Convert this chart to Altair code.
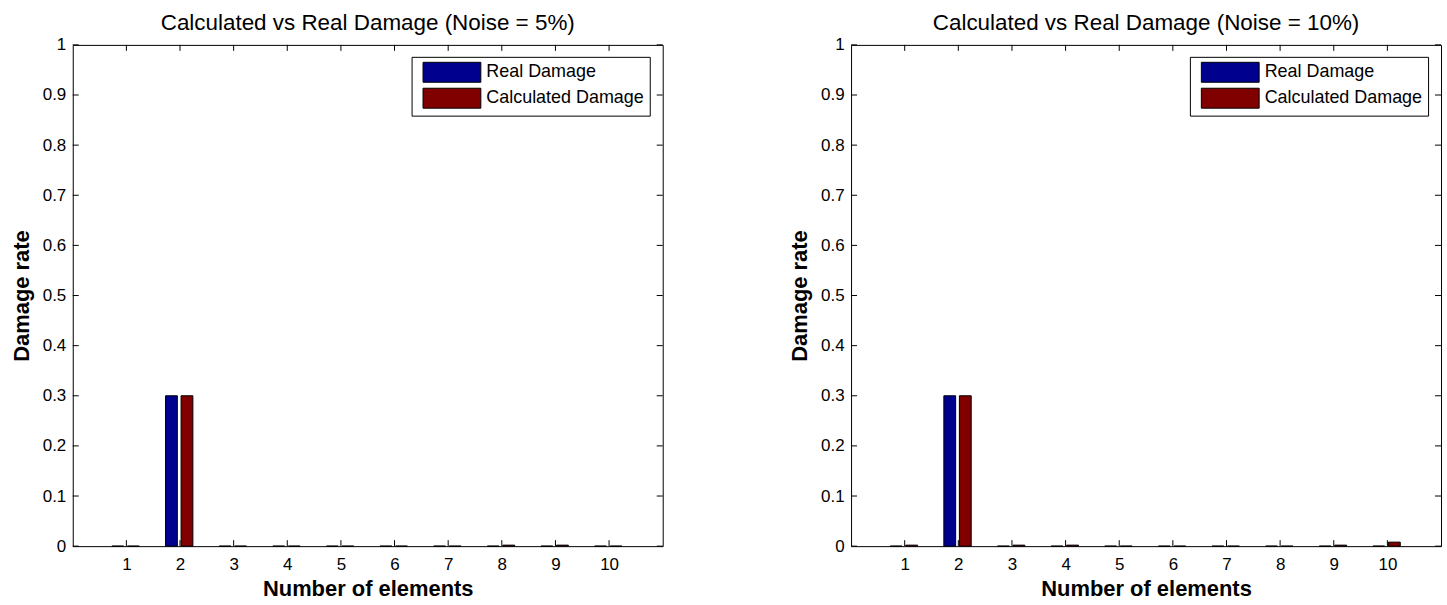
import altair as alt
import pandas as pd

# Element numbers along the x axis and the two bar series per panel
elements = list(range(1, 11))
series_names = ["Real Damage", "Calculated Damage"]
series_colors = ["#00008F", "#800000"]

real_5 = [0, 0.3, 0, 0, 0, 0, 0, 0, 0, 0]
calc_5 = [0, 0.3, 0, 0, 0, 0, 0, 0.002, 0.002, 0]

real_10 = [0, 0.3, 0, 0, 0, 0, 0, 0, 0, 0]
calc_10 = [0.002, 0.3, 0.002, 0.002, 0, 0, 0, 0, 0.002, 0.008]

x_ticks = list(range(1, 11))
y_ticks = [0, 0.1, 0.2, 0.3, 0.4, 0.5, 0.6, 0.7, 0.8, 0.9, 1]

panel_titles = [
    "Calculated vs Real Damage (Noise = 5%)",
    "Calculated vs Real Damage (Noise = 10%)",
]

W, H = 592, 503
FONT = "Liberation Sans"
TICK_LEN = 6

x_scale = alt.Scale(domain=[0, 11], nice=False, zero=False)
y_scale = alt.Scale(domain=[0, 1], nice=False)

x_axis = alt.Axis(
    values=x_ticks, format="d", ticks=False, tickSize=0, domain=False,
    grid=False, title="Number of elements", titleFontSize=22,
    titleFontWeight="bold", titleFont=FONT, titleColor="black",
    titlePadding=7, labelFont=FONT, labelFontSize=17,
    labelColor="black", labelPadding=10,
)
y_axis = alt.Axis(
    values=y_ticks, format="~g", ticks=False, tickSize=0, domain=False,
    grid=False, title="Damage rate", titleFontSize=22,
    titleFontWeight="bold", titleFont=FONT, titleColor="black",
    titlePadding=9, labelFont=FONT, labelFontSize=17,
    labelColor="black", labelPadding=7,
)

# Wide rectangular legend swatch: 58 x 20 px at symbolSize 400 (scale 10)
legend_symbol = "M-0.4,-1L5.4,-1L5.4,1L-0.4,1Z"


def panel(real, calc, title):
    df = pd.DataFrame({
        "element": elements * 2,
        "series": [series_names[0]] * len(elements) + [series_names[1]] * len(elements),
        "rate": real + calc,
    })

    bars = (
        alt.Chart(df)
        .transform_calculate(
            left="datum.element + (datum.series == 'Real Damage' ? -0.27 : 0.02)",
            right="datum.element + (datum.series == 'Real Damage' ? -0.05 : 0.24)",
        )
        .mark_bar(stroke="black", strokeWidth=1)
        .encode(
            x=alt.X("left:Q", scale=x_scale, axis=x_axis),
            x2="right:Q",
            y=alt.Y("rate:Q", scale=y_scale, axis=y_axis),
            y2=alt.datum(0),
            color=alt.Color(
                "series:N",
                scale=alt.Scale(domain=series_names, range=series_colors),
                title=None,
                legend=alt.Legend(
                    orient="none", legendX=340, legendY=12,
                    strokeColor="black", fillColor="white", padding=5,
                    symbolType=legend_symbol, symbolSize=400,
                    symbolStrokeColor="black", symbolStrokeWidth=1,
                    labelFont=FONT, labelFontSize=18, labelColor="black",
                    labelOffset=49, rowPadding=1,
                ),
            ),
        )
    )

    ydf = pd.DataFrame({"v": y_ticks})
    xdf = pd.DataFrame({"v": x_ticks})

    # Inward-pointing tick marks on all four sides of the box
    left_ticks = alt.Chart(ydf).mark_rule(color="black").encode(
        y=alt.Y("v:Q", scale=y_scale, axis=y_axis),
        x=alt.value(0), x2=alt.value(TICK_LEN),
    )
    right_ticks = alt.Chart(ydf).mark_rule(color="black").encode(
        y=alt.Y("v:Q", scale=y_scale, axis=y_axis),
        x=alt.value(W - TICK_LEN), x2=alt.value(W),
    )
    bottom_ticks = alt.Chart(xdf).mark_rule(color="black").encode(
        x=alt.X("v:Q", scale=x_scale, axis=x_axis),
        y=alt.value(H - TICK_LEN), y2=alt.value(H),
    )
    top_ticks = alt.Chart(xdf).mark_rule(color="black").encode(
        x=alt.X("v:Q", scale=x_scale, axis=x_axis),
        y=alt.value(0), y2=alt.value(TICK_LEN),
    )

    return alt.layer(bars, left_ticks, right_ticks, bottom_ticks, top_ticks).properties(
        width=W,
        height=H,
        title=alt.TitleParams(
            text=title, fontSize=22.5, fontWeight="normal", font=FONT,
            color="black", offset=1, anchor="middle",
        ),
    )


chart = (
    alt.hconcat(
        panel(real_5, calc_5, panel_titles[0]),
        panel(real_10, calc_10, panel_titles[1]),
        spacing=124,
    )
    .resolve_scale(color="independent", x="independent", y="independent")
    .resolve_legend(color="independent")
    .properties(padding={"left": 9, "top": 11, "right": 5, "bottom": 0}, background="white")
    .configure_view(stroke="black", strokeWidth=1)
)

chart.save("out.html", embed_options={"renderer": "svg", "actions": False})
